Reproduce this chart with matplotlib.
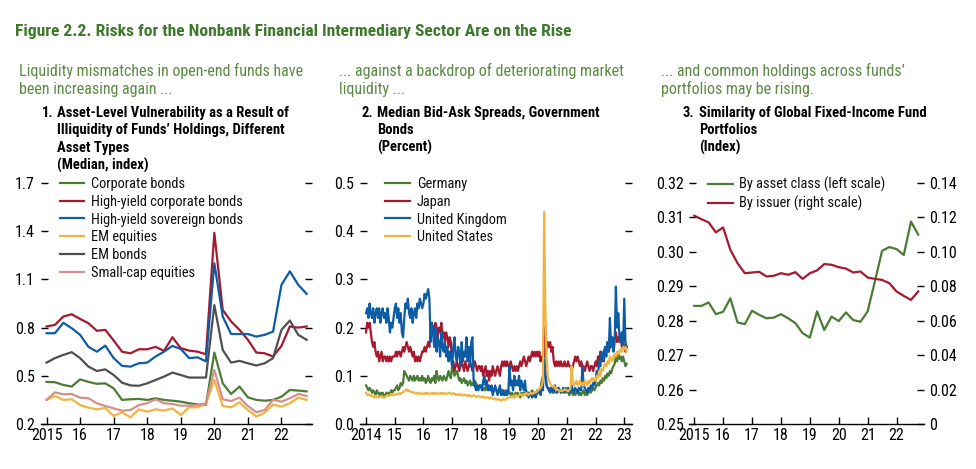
import os
import numpy as np
import matplotlib
matplotlib.use("Agg")
import matplotlib.pyplot as plt
import matplotlib.font_manager as fm
from matplotlib.font_manager import FontProperties

# ---------------- data ----------------
# Panel 1: quarterly, 2015Q1 .. 2022Q4
p1_start = 2015
corporate_bonds = [0.462, 0.460, 0.443, 0.433, 0.478, 0.462, 0.450, 0.453, 0.422, 0.350, 0.354, 0.356,
                   0.350, 0.360, 0.350, 0.345, 0.339, 0.329, 0.322, 0.318, 0.645, 0.453, 0.387, 0.433,
                   0.366, 0.350, 0.345, 0.350, 0.370, 0.412, 0.408, 0.403]
hy_corporate = [0.807, 0.817, 0.869, 0.883, 0.854, 0.827, 0.780, 0.786, 0.720, 0.650, 0.640, 0.665,
                0.665, 0.680, 0.655, 0.740, 0.672, 0.657, 0.650, 0.634, 1.390, 0.910, 0.838, 0.786,
                0.724, 0.645, 0.640, 0.620, 0.686, 0.807, 0.800, 0.807]
hy_sovereign = [0.765, 0.765, 0.830, 0.796, 0.755, 0.680, 0.650, 0.688, 0.610, 0.562, 0.557, 0.578,
                0.582, 0.620, 0.650, 0.686, 0.667, 0.610, 0.615, 0.590, 1.200, 0.869, 0.760, 0.760,
                0.760, 0.744, 0.755, 0.775, 1.066, 1.150, 1.066, 1.010]
em_equities = [0.350, 0.374, 0.350, 0.354, 0.318, 0.302, 0.291, 0.300, 0.250, 0.273, 0.241, 0.291,
               0.277, 0.291, 0.283, 0.297, 0.256, 0.304, 0.304, 0.325, 0.474, 0.312, 0.304, 0.335,
               0.287, 0.246, 0.270, 0.322, 0.308, 0.329, 0.364, 0.350]
em_bonds = [0.582, 0.610, 0.630, 0.647, 0.610, 0.557, 0.530, 0.540, 0.505, 0.457, 0.440, 0.438,
            0.453, 0.474, 0.495, 0.520, 0.505, 0.489, 0.489, 0.489, 0.940, 0.661, 0.582, 0.593,
            0.578, 0.564, 0.578, 0.610, 0.786, 0.844, 0.755, 0.724]
small_cap = [0.350, 0.397, 0.385, 0.387, 0.364, 0.360, 0.329, 0.312, 0.297, 0.283, 0.287, 0.318,
             0.329, 0.354, 0.329, 0.325, 0.314, 0.314, 0.318, 0.329, 0.536, 0.354, 0.343, 0.364,
             0.312, 0.273, 0.287, 0.350, 0.339, 0.360, 0.387, 0.374]
p1_labels = ["Corporate bonds", "High-yield corporate bonds", "High-yield sovereign bonds",
             "EM equities", "EM bonds", "Small-cap equities"]

# Panel 2: semi-monthly readings (high/low of the daily band), Jan 2014 .. Feb 2023
p2_start = 2014
germany_rows = [
    [.08, .075, .07, .075, .07, .065, .07, .065, .06, .07, .065, .06, .065, .06, .065, .055, .06, .065, .06, .065, .06, .07, .065, .07],
    [.07, .075, .08, .07, .075, .085, .08, .085, .11, .105, .10, .095, .09, .10, .095, .09, .10, .09, .095, .10, .09, .095, .09, .10],
    [.09, .095, .085, .09, .10, .09, .085, .095, .09, .10, .085, .11, .095, .09, .10, .095, .09, .10, .095, .09, .10, .11, .10, .095],
    [.12, .11, .10, .105, .11, .10, .09, .095, .085, .09, .095, .085, .09, .08, .085, .09, .08, .085, .08, .09, .085, .08, .075, .08],
    [.08, .075, .07, .075, .07, .08, .075, .07, .075, .07, .065, .07, .075, .07, .065, .07, .065, .07, .065, .07, .065, .06, .065, .07],
    [.065, .06, .065, .06, .055, .065, .06, .065, .06, .055, .065, .06, .065, .06, .07, .06, .065, .06, .065, .07, .06, .065, .06, .07],
    [.065, .07, .075, .09, .10, .14, .10, .08, .075, .07, .075, .07, .065, .075, .07, .065, .07, .075, .07, .065, .07, .065, .07, .075],
    [.065, .07, .06, .065, .07, .06, .065, .06, .065, .07, .06, .065, .06, .065, .07, .06, .065, .06, .065, .07, .065, .07, .075, .07],
    [.075, .08, .085, .08, .09, .085, .095, .09, .10, .095, .105, .10, .11, .105, .115, .12, .125, .14, .13, .15, .135, .14, .13, .14],
    [.13, .12, .125],
]
japan_rows = [
    [.19, .21, .20, .21, .19, .17, .16, .17, .15, .14, .15, .13, .14, .15, .13, .14, .14, .13, .14, .13, .14, .13, .14, .14],
    [.14, .15, .14, .15, .15, .14, .15, .16, .15, .16, .17, .16, .15, .16, .15, .14, .15, .13, .14, .13, .14, .13, .14, .15],
    [.15, .16, .15, .16, .17, .16, .19, .21, .20, .19, .21, .20, .18, .20, .19, .21, .18, .19, .17, .19, .18, .16, .18, .17],
    [.12, .13, .11, .12, .13, .12, .11, .12, .13, .12, .11, .13, .12, .11, .12, .13, .12, .11, .12, .13, .12, .11, .12, .12],
    [.11, .12, .10, .11, .12, .10, .11, .09, .11, .10, .12, .11, .10, .11, .12, .11, .10, .12, .13, .12, .13, .12, .13, .12],
    [.12, .13, .12, .11, .12, .11, .12, .11, .12, .13, .12, .13, .14, .13, .12, .13, .14, .13, .14, .15, .14, .15, .14, .15],
    [.14, .15, .13, .14, .13, .20, .14, .16, .17, .16, .17, .15, .16, .13, .12, .13, .12, .13, .12, .13, .12, .12, .13, .12],
    [.12, .13, .12, .12, .11, .12, .13, .14, .13, .14, .13, .12, .13, .12, .12, .11, .12, .13, .12, .11, .12, .12, .11, .12],
    [.13, .12, .14, .13, .15, .14, .13, .15, .16, .15, .16, .15, .16, .17, .16, .17, .18, .19, .17, .18, .17, .18, .16, .17],
    [.16, .15, .16],
]
uk_rows = [
    [.23, .24, .22, .25, .23, .22, .24, .21, .23, .24, .22, .24, .21, .23, .24, .22, .23, .21, .24, .22, .19, .21, .20, .22],
    [.24, .25, .22, .24, .21, .23, .19, .18, .22, .25, .24, .26, .23, .22, .24, .21, .23, .24, .22, .25, .24, .26, .25, .24],
    [.25, .27, .26, .27, .28, .26, .17, .21, .19, .16, .20, .15, .18, .17, .14, .19, .16, .15, .17, .14, .16, .13, .15, .14],
    [.12, .16, .18, .14, .13, .16, .15, .12, .17, .13, .15, .14, .18, .13, .16, .12, .17, .18, .09, .08, .07, .08, .07, .08],
    [.08, .07, .09, .10, .08, .09, .07, .08, .07, .08, .06, .07, .08, .07, .06, .07, .08, .06, .07, .06, .06, .07, .06, .065],
    [.12, .08, .09, .07, .10, .08, .09, .08, .10, .07, .09, .08, .07, .09, .06, .065, .055, .06, .065, .055, .06, .06, .055, .065],
    [.065, .07, .06, .075, .07, .14, .11, .08, .075, .07, .065, .075, .07, .065, .08, .07, .065, .075, .07, .065, .07, .075, .065, .07],
    [.07, .075, .065, .07, .08, .07, .065, .075, .07, .065, .075, .07, .07, .12, .08, .075, .07, .065, .075, .07, .08, .075, .085, .08],
    [.09, .11, .10, .13, .12, .15, .14, .13, .16, .14, .17, .15, .22, .16, .18, .15, .17, .285, .20, .23, .18, .17, .19, .16],
    [.26, .17, .16],
]
us_rows = [
    [.065, .06, .062, .06, .058, .06, .057, .055, .058, .056, .055, .057, .056, .058, .056, .055, .057, .058, .06, .058, .06, .062, .06, .062],
    [.06, .062, .063, .061, .064, .062, .065, .066, .068, .07, .072, .068, .07, .067, .066, .065, .066, .064, .063, .065, .064, .062, .064, .063],
    [.063, .064, .062, .065, .063, .062, .064, .063, .065, .062, .063, .064, .062, .063, .064, .062, .065, .063, .064, .062, .063, .065, .064, .063],
    [.062, .064, .063, .06, .062, .061, .06, .062, .06, .059, .061, .06, .06, .058, .06, .059, .057, .058, .06, .058, .057, .056, .058, .057],
    [.056, .055, .057, .055, .054, .056, .055, .053, .055, .054, .052, .053, .052, .05, .052, .051, .05, .049, .05, .052, .05, .051, .053, .055],
    [.055, .057, .055, .058, .056, .06, .058, .057, .06, .062, .06, .058, .062, .06, .065, .062, .06, .063, .065, .062, .064, .066, .065, .068],
    [.07, .072, .075, .08, .09, .44, .24, .14, .10, .09, .085, .08, .078, .08, .075, .07, .072, .07, .068, .07, .068, .07, .072, .07],
    [.07, .068, .07, .075, .12, .085, .08, .085, .09, .08, .085, .09, .08, .085, .08, .09, .085, .08, .09, .085, .09, .095, .09, .095],
    [.09, .10, .095, .11, .10, .115, .11, .12, .125, .12, .13, .125, .14, .135, .13, .14, .145, .14, .15, .145, .15, .155, .15, .16],
    [.155, .16, .15],
]
p2_labels = ["Germany", "Japan", "United Kingdom", "United States"]

# Panel 3: quarterly, 2015Q1 .. 2022Q4
p3_start = 2015
by_asset_class = [0.2843, 0.2843, 0.2853, 0.2819, 0.2826, 0.2865, 0.2795, 0.2790, 0.2829, 0.2817, 0.2807, 0.2809,
                  0.2819, 0.2807, 0.2793, 0.2764, 0.2751, 0.2827, 0.2773, 0.2812, 0.2799, 0.2824, 0.2802, 0.2797,
                  0.2827, 0.2914, 0.3003, 0.3014, 0.3008, 0.2991, 0.3088, 0.3050]
by_issuer = [0.1210, 0.1190, 0.1171, 0.1113, 0.1142, 0.1012, 0.0934, 0.0876, 0.0880, 0.0884, 0.0857, 0.0861,
             0.0876, 0.0867, 0.0882, 0.0843, 0.0876, 0.0892, 0.0929, 0.0925, 0.0911, 0.0903, 0.0880, 0.0886,
             0.0851, 0.0843, 0.0837, 0.0818, 0.0770, 0.0744, 0.0721, 0.0770]
p3_labels = ["By asset class (left scale)", "By issuer (right scale)"]

# tick labels
p1_xticks = [2015, 2016, 2017, 2018, 2019, 2020, 2021, 2022]
p1_xlabels = ["2015", "16", "17", "18", "19", "20", "21", "22"]
p1_yticks = [0.2, 0.5, 0.8, 1.1, 1.4, 1.7]
p2_xticks = [2014, 2015, 2016, 2017, 2018, 2019, 2020, 2021, 2022, 2023]
p2_xlabels = ["2014", "15", "16", "17", "18", "19", "20", "21", "22", "23"]
p2_yticks = [0.0, 0.1, 0.2, 0.3, 0.4, 0.5]
p3_xticks = [2015, 2016, 2017, 2018, 2019, 2020, 2021, 2022]
p3_xlabels = ["2015", "16", "17", "18", "19", "20", "21", "22"]
p3_yticks_left = [0.25, 0.26, 0.27, 0.28, 0.29, 0.30, 0.31, 0.32]
p3_yticks_right = [0, 0.02, 0.04, 0.06, 0.08, 0.10, 0.12, 0.14]
p3_ylabels_right = ["0", "0.02", "0.04", "0.06", "0.08", "0.10", "0.12", "0.14"]

# ---------------- fonts ----------------
def _stretch(f):
    s = f.stretch
    if isinstance(s, str):
        return {'ultra-condensed': 100, 'extra-condensed': 200, 'condensed': 300,
                'semi-condensed': 400}.get(s, 500)
    return int(s)

def _weight(f):
    w = f.weight
    if isinstance(w, str):
        return {'bold': 700, 'normal': 400, 'regular': 400, 'medium': 500, 'semibold': 600,
                'light': 300, 'book': 400}.get(w.lower(), 400)
    return int(w)

_pref = ['Liberation Sans Narrow', 'Roboto Condensed', 'Noto Sans Condensed', 'Noto Sans',
         'Open Sans Condensed', 'Open Sans', 'DejaVu Sans Condensed', 'DejaVu Sans']
_cands = []
for f in fm.fontManager.ttflist:
    base = os.path.basename(f.fname)
    cond = ('Narrow' in f.name or 'Condensed' in f.name or 'Condensed' in base
            or 'Narrow' in base or _stretch(f) <= 400)
    if cond and f.style == 'normal' and 'Extra' not in base and 'Semi' not in base:
        _cands.append(f)

def _pick(bold):
    target = 700 if bold else 400
    best, key_best = None, None
    for f in _cands:
        fam = _pref.index(f.name) if f.name in _pref else 50
        key = (fam, abs(_weight(f) - target))
        if key_best is None or key < key_best:
            best, key_best = f, key
    if best is None:
        return fm.findfont(FontProperties(family='DejaVu Sans', weight='bold' if bold else 'normal'))
    return best.fname

REG = _pick(False)
BOLD = _pick(True)

def fp(size, bold=False):
    return FontProperties(fname=BOLD if bold else REG, size=size)

# ---------------- styling ----------------
C_GREEN = '#4a7c35'
C_RED = '#a6192e'
C_BLUE = '#0d5ca6'
C_YELLOW = '#f2b441'
C_GRAY = '#4f4f4f'
C_SALMON = '#d4918a'
T_GREEN = '#3f7a2c'
S_GREEN = '#5b8b44'
LW = 1.6
W, H = 976, 469
TICK_FS = 11.5
LEG_FS = 10.4

fig = plt.figure(figsize=(W / 100, H / 100), dpi=100)

def ax_rect(l, r, t, b):
    return [l / W, 1 - b / H, (r - l) / W, (b - t) / H]

def style_axes(ax, xt, xl, yt, yl):
    for s in ['left', 'right', 'top']:
        ax.spines[s].set_visible(False)
    ax.spines['bottom'].set_linewidth(1.0)
    ax.set_xticks(xt, labels=xl, fontproperties=fp(TICK_FS))
    ax.set_yticks(yt, labels=yl, fontproperties=fp(TICK_FS))
    ax.tick_params(axis='both', direction='in', length=5, width=1.0, color='black')
    ax.tick_params(axis='y', left=True, right=True, labelright=False, pad=4)
    ax.tick_params(axis='x', pad=3)

LEG_KW = dict(loc='upper left', frameon=False, handlelength=1.72, handletextpad=0.47,
              labelspacing=0.27, borderpad=0, borderaxespad=0)

def add_legend(ax, x_ax, y_ax, handles=None):
    if handles is None:
        leg = ax.legend(bbox_to_anchor=(x_ax, y_ax), prop=fp(LEG_FS), **LEG_KW)
    else:
        leg = ax.legend(handles=handles, bbox_to_anchor=(x_ax, y_ax), prop=fp(LEG_FS), **LEG_KW)
    for t in leg.get_texts():
        t.set_color('#111111')
    return leg

# ---------------- panel 1 ----------------
ax1 = fig.add_axes(ax_rect(40.5, 312, 183, 424))
x1 = p1_start + np.arange(len(corporate_bonds)) / 4
for vals, col, lab in zip([corporate_bonds, hy_corporate, hy_sovereign, em_equities, em_bonds, small_cap],
                          [C_GREEN, C_RED, C_BLUE, C_YELLOW, C_GRAY, C_SALMON], p1_labels):
    ax1.plot(x1, vals, color=col, lw=LW, label=lab, solid_joinstyle='round')
ax1.set_xlim(2014.82, 2022.91)
ax1.set_ylim(0.2, 1.7)
style_axes(ax1, p1_xticks, p1_xlabels, p1_yticks, [f"{v:.1f}" for v in p1_yticks])
add_legend(ax1, 0.07, 1.026)

# ---------------- panel 2 ----------------
ax2 = fig.add_axes(ax_rect(360, 632, 183, 424))
germany = np.concatenate([np.array(r, float) for r in germany_rows])
japan = np.concatenate([np.array(r, float) for r in japan_rows])
uk = np.concatenate([np.array(r, float) for r in uk_rows])
us = np.concatenate([np.array(r, float) for r in us_rows])
for vals, col, lab in zip([germany, japan, uk, us], [C_GREEN, C_RED, C_BLUE, C_YELLOW], p2_labels):
    xx = p2_start + np.arange(len(vals)) / 24
    ax2.plot(xx, vals, color=col, lw=LW, label=lab)
ax2.set_xlim(2013.79, 2023.27)
ax2.set_ylim(0.0, 0.5)
style_axes(ax2, p2_xticks, p2_xlabels, p2_yticks, [f"{v:.1f}" for v in p2_yticks])
add_legend(ax2, 0.092, 1.026)

# ---------------- panel 3 ----------------
ax3 = fig.add_axes(ax_rect(689, 924, 183, 424))
ax3b = ax3.twinx()
x3 = p3_start + np.arange(len(by_asset_class)) / 4
l1, = ax3.plot(x3, by_asset_class, color=C_GREEN, lw=LW, label=p3_labels[0])
l2, = ax3b.plot(x3, by_issuer, color=C_RED, lw=LW, label=p3_labels[1])
ax3.set_xlim(2014.82, 2022.95)
ax3.set_ylim(0.25, 0.32)
ax3b.set_ylim(0, 0.14)
style_axes(ax3, p3_xticks, p3_xlabels, p3_yticks_left, [f"{v:.2f}" for v in p3_yticks_left])
ax3.tick_params(axis='y', right=False)
for s in ['left', 'right', 'top', 'bottom']:
    ax3b.spines[s].set_visible(False)
ax3b.set_yticks(p3_yticks_right, labels=p3_ylabels_right, fontproperties=fp(TICK_FS))
ax3b.tick_params(axis='y', direction='in', length=5, width=1.0, pad=4, right=True, labelright=True)
add_legend(ax3, 0.08, 1.026, handles=[l1, l2])

# ---------------- texts ----------------
def ftext(px, py, s, size, bold=False, color='black'):
    fig.text(px / W, 1 - py / H, s, fontproperties=fp(size, bold), color=color,
             ha='left', va='baseline')

ftext(15, 36, "Figure 2.2. Risks for the Nonbank Financial Intermediary Sector Are on the Rise", 12.6, True, T_GREEN)

subs = [(19, ["Liquidity mismatches in open-end funds have", "been increasing again ..."]),
        (339, ["... against a backdrop of deteriorating market", "liquidity ..."]),
        (661, ["... and common holdings across funds\u2019", "portfolios may be rising."])]
for px, lines in subs:
    for i, ln in enumerate(lines):
        ftext(px, 75.7 + i * 18.6, ln, 11.5, False, S_GREEN)

titles = [(42, 57, "1.", ["Asset-Level Vulnerability as a Result of",
                          "Illiquidity of Funds\u2019 Holdings, Different",
                          "Asset Types", "(Median, index)"]),
          (362, 377, "2.", ["Median Bid-Ask Spreads, Government", "Bonds", "(Percent)"]),
          (683, 699, "3.", ["Similarity of Global Fixed-Income Fund", "Portfolios", "(Index)"])]
for pxn, pxt, num, lines in titles:
    ftext(pxn, 116.7, num, 10.5, True)
    for i, ln in enumerate(lines):
        ftext(pxt, 116.7 + i * 17.7, ln, 10.5, True)

fig.savefig("out.png", dpi=100)
